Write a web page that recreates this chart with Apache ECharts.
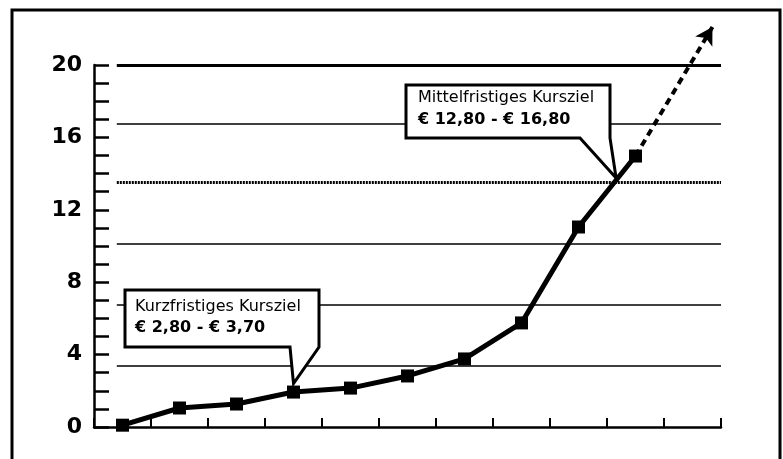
<!DOCTYPE html>
<html>
<head>
<meta charset="utf-8">
<script src="https://cdn.jsdelivr.net/npm/echarts@6/dist/echarts.min.js"></script>
<style>
html, body { margin: 0; padding: 0; background: #fff; }
#chart { width: 783px; height: 459px; }
</style>
</head>
<body>
<div id="chart"></div>
<script>
// Kursverlauf (x = Periode, Mitte der Kategorie)
var perioden = [0.5, 1.5, 2.5, 3.5, 4.5, 5.5, 6.5, 7.5, 8.5, 9.5];
var kurs = [0.1, 1.05, 1.27, 1.93, 2.15, 2.82, 3.76, 5.75, 11.05, 14.97];
// gestrichelte Verlaengerung mit Pfeil
var trendX = [9.5, 10.85];
var trendY = [14.97, 22.1];
// horizontale Linien
var linienY = [3.4, 6.75, 10.1, 13.5, 16.75, 20];
var linienStil = ['solid', 'solid', 'solid', 'dotted', 'solid', 'solid'];
var yLabels = [0, 4, 8, 12, 16, 20];
// Sprechblasen
var blasenTitel = ['Kurzfristiges Kursziel', 'Mittelfristiges Kursziel'];
var blasenSpanne = ['€ 2,80 - € 3,70', '€ 12,80 - € 16,80'];
var blasenSpitze = [[3.5, 2.4], [9.16, 13.76]];

var chart = echarts.init(document.getElementById('chart'));

var linien = linienY.map(function (v, i) {
    var stil = { type: 'solid', width: 1.5, color: '#000' };
    if (linienStil[i] === 'dotted') stil = { type: [2, 1], width: 3, color: '#000' };
    if (i === linienY.length - 1) stil.width = 3;
    return [
        { coord: [0.4, v], lineStyle: stil },
        { coord: [11, v] }
    ];
});

chart.setOption({
    animation: false,
    grid: { left: 94, right: 62, top: 65, bottom: 32 },
    xAxis: {
        type: 'value', min: 0, max: 11, interval: 1,
        axisLine: { lineStyle: { color: '#000', width: 2.5 } },
        axisTick: { inside: true, length: 9, lineStyle: { color: '#000', width: 2 } },
        axisLabel: { show: false },
        splitLine: { show: false }
    },
    yAxis: {
        type: 'value', min: 0, max: 20, interval: 1,
        axisLine: { show: true, lineStyle: { color: '#000', width: 2.5 } },
        axisTick: { show: true, inside: true, length: 15, lineStyle: { color: '#000', width: 2.5 } },
        axisLabel: {
            margin: 12,
            color: '#000',
            fontFamily: 'DejaVu Sans',
            fontWeight: 'bold',
            fontSize: 22,
            formatter: function (v) { return yLabels.indexOf(v) >= 0 ? String(v) : ''; }
        },
        splitLine: { show: false }
    },
    series: [{
        type: 'line',
        data: perioden.map(function (x, i) { return [x, kurs[i]]; }),
        symbol: 'rect',
        symbolSize: 13,
        itemStyle: { color: '#000' },
        lineStyle: { color: '#000', width: 5 },
        z: 5,
        markLine: {
            silent: true,
            symbol: 'none',
            label: { show: false },
            data: linien,
            z: 1
        }
    }, {
        type: 'line',
        clip: false,
        data: trendX.map(function (x, i) { return [x, trendY[i]]; }),
        symbol: function (v, p) { return p.dataIndex === trendX.length - 1 ? 'arrow' : 'none'; },
        symbolSize: [15, 17],
        itemStyle: { color: '#000' },
        lineStyle: { color: '#000', width: 4, type: [7, 5] },
        z: 4
    }]
});

// Pfeilrichtung aus den Pixelpositionen
var p0 = chart.convertToPixel({ gridIndex: 0 }, [trendX[0], trendY[0]]);
var p1 = chart.convertToPixel({ gridIndex: 0 }, [trendX[1], trendY[1]]);
var winkel = Math.atan2(p1[0] - p0[0], p0[1] - p1[1]) * 180 / Math.PI;

// Sprechblasen-Layout (Pixel)
var boxen = [
    { l: 125, t: 290, r: 319, b: 347, kerbe: 29, tx: 135, y1: 307, y2: 328 },
    { l: 406, t: 85, r: 610, b: 138, kerbe: 30, tx: 418, y1: 98, y2: 120 }
];

var grafik = [{
    type: 'rect',
    shape: { x: 12, y: 10, width: 768, height: 470 },
    style: { fill: 'none', stroke: '#000', lineWidth: 3 },
    z: 100
}];

boxen.forEach(function (b, i) {
    var tip = chart.convertToPixel({ gridIndex: 0 }, blasenSpitze[i]);
    grafik.push({
        type: 'polygon',
        shape: { points: [[b.l, b.t], [b.r, b.t], [b.r, b.b], tip, [b.r - b.kerbe, b.b], [b.l, b.b]] },
        style: { fill: '#fff', stroke: '#000', lineWidth: 3, lineJoin: 'miter' },
        z: 100
    });
    grafik.push({
        type: 'text',
        style: { text: blasenTitel[i], x: b.tx, y: b.y1, font: '16px "DejaVu Sans"', fill: '#000', verticalAlign: 'middle' },
        z: 101
    });
    grafik.push({
        type: 'text',
        style: { text: blasenSpanne[i], x: b.tx, y: b.y2, font: 'bold 16px "DejaVu Sans"', fill: '#000', verticalAlign: 'middle' },
        z: 101
    });
});

chart.setOption({
    graphic: grafik,
    series: [{}, { symbolRotate: -winkel }]
});
</script>
</body>
</html>
